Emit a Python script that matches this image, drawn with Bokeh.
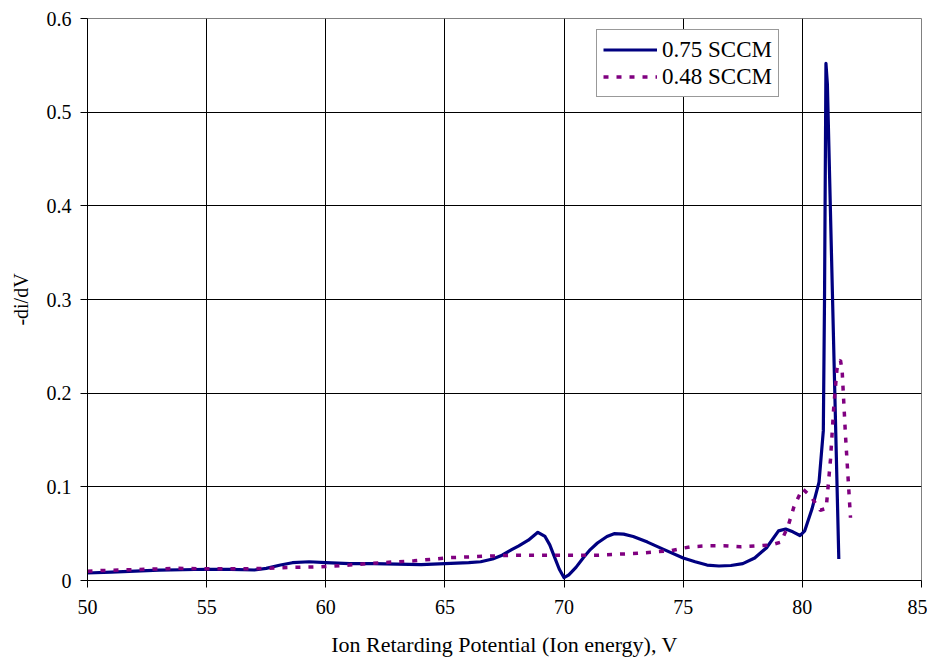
from bokeh.plotting import figure
from bokeh.models import FixedTicker, Range1d, Legend, LegendItem
from bokeh.embed import file_html
from bokeh.resources import INLINE

# Series 0.75 SCCM (solid navy)
x_075 = [50.0, 51.0, 52.0, 53.0, 54.0, 55.0, 56.0, 57.0, 57.5, 58.1, 58.6, 59.3, 60.0, 61.0,
         62.0, 63.0, 64.0, 65.0, 66.0, 66.5, 67.0, 67.4, 67.8, 68.1, 68.5, 68.9, 69.2, 69.4,
         69.6, 69.8, 70.0, 70.2, 70.5, 70.8, 71.1, 71.4, 71.8, 72.1, 72.5, 72.9, 73.5, 74.2,
         75.0, 75.5, 76.0, 76.5, 77.0, 77.5, 78.0, 78.5, 79.0, 79.3, 79.6, 79.9, 80.1, 80.4,
         80.7, 80.88, 80.93, 80.99, 81.05, 81.53]
y_075 = [0.008, 0.009, 0.010, 0.011, 0.0115, 0.012, 0.0118, 0.0112, 0.013, 0.0165, 0.019, 0.020,
         0.019, 0.018, 0.018, 0.0175, 0.017, 0.018, 0.019, 0.020, 0.023, 0.027, 0.033, 0.037,
         0.043, 0.0515, 0.047, 0.038, 0.025, 0.012, 0.003, 0.006, 0.014, 0.024, 0.033, 0.040,
         0.047, 0.050, 0.0495, 0.047, 0.041, 0.033, 0.024, 0.020, 0.0165, 0.0155, 0.016, 0.018,
         0.024, 0.035, 0.053, 0.055, 0.052, 0.048, 0.053, 0.076, 0.105, 0.16, 0.30, 0.552,
         0.53, 0.023]

# Series 0.48 SCCM (dotted purple)
x_048 = [50.0, 51.0, 52.5, 53.8, 55.0, 56.0, 57.0, 58.5, 59.8, 61.0, 62.3, 63.7, 65.2, 66.8,
         67.9, 69.0, 70.0, 71.4, 72.2, 73.1, 74.5, 75.3, 76.0, 76.7, 77.4, 78.2, 78.7, 79.1,
         79.4, 79.65, 80.0, 80.35, 80.75, 81.0, 81.18, 81.32, 81.45, 81.53, 81.6, 81.67, 81.81,
         82.02]
y_048 = [0.010, 0.011, 0.012, 0.013, 0.0125, 0.0125, 0.0126, 0.014, 0.0147, 0.0165, 0.019,
         0.021, 0.0244, 0.026, 0.027, 0.027, 0.027, 0.027, 0.028, 0.029, 0.032, 0.036, 0.037,
         0.037, 0.036, 0.037, 0.038, 0.041, 0.058, 0.079, 0.098, 0.090, 0.075, 0.077, 0.129,
         0.186, 0.225, 0.234, 0.235, 0.224, 0.155, 0.067]

series_names = ["0.75 SCCM", "0.48 SCCM"]

x_ticks = [50, 55, 60, 65, 70, 75, 80, 85]
x_tick_labels = ["50", "55", "60", "65", "70", "75", "80", "85"]
y_ticks = [0, 0.1, 0.2, 0.3, 0.4, 0.5, 0.6]
y_tick_labels = ["0", "0.1", "0.2", "0.3", "0.4", "0.5", "0.6"]

x_title = "Ion Retarding Potential (Ion energy), V"
y_title = "-di/dV"

FONT = "Liberation Serif"

p = figure(width=927, height=665, x_range=Range1d(50, 85), y_range=Range1d(0, 0.6),
           output_backend="svg", toolbar_location=None,
           min_border_left=87, min_border_right=6, min_border_top=18, min_border_bottom=85)

p.background_fill_color = "white"
p.border_fill_color = "white"
p.outline_line_color = "#808080"
p.outline_line_width = 1

p.xgrid.ticker = FixedTicker(ticks=x_ticks[1:-1])
p.ygrid.ticker = FixedTicker(ticks=y_ticks[1:-1])
for g in (p.xgrid, p.ygrid):
    g.grid_line_color = "black"
    g.grid_line_width = 1

p.xaxis.ticker = FixedTicker(ticks=x_ticks)
p.yaxis.ticker = FixedTicker(ticks=y_ticks)
p.xaxis.major_label_overrides = {t: s for t, s in zip(x_ticks, x_tick_labels)}
p.yaxis.major_label_overrides = {t: s for t, s in zip(y_ticks, y_tick_labels)}

for ax in (p.xaxis, p.yaxis):
    ax.axis_line_color = "black"
    ax.axis_line_width = 1
    ax.major_tick_line_color = "black"
    ax.major_tick_in = 0
    ax.major_tick_out = 7
    ax.minor_tick_line_color = None
    ax.major_label_text_font = FONT
    ax.major_label_text_font_size = "20px"
    ax.major_label_text_color = "black"
    ax.axis_label_text_font = FONT
    ax.axis_label_text_font_style = "normal"
    ax.axis_label_text_color = "black"

p.xaxis.axis_label = x_title
p.xaxis.axis_label_text_font_size = "22px"
p.xaxis.major_label_standoff = 12
p.xaxis.axis_label_standoff = 15
p.yaxis.axis_label = y_title
p.yaxis.axis_label_text_font_size = "20px"
p.yaxis.major_label_standoff = 9
p.yaxis.axis_label_standoff = 12

r1 = p.line(x_075, y_075, line_color="#000080", line_width=3.2, line_join="round")
r2 = p.line(x_048, y_048, line_color="#800080", line_width=3.5, line_dash="5 8")

legend = Legend(items=[LegendItem(label=series_names[0], renderers=[r1]),
                       LegendItem(label=series_names[1], renderers=[r2])],
                location=(509, 483))
legend.label_text_font = FONT
legend.label_text_font_size = "23px"
legend.label_text_color = "black"
legend.glyph_width = 54
legend.glyph_height = 27
legend.label_height = 27
legend.label_standoff = 5
legend.padding = 6
legend.spacing = 0
legend.margin = 0
legend.border_line_color = "#333333"
legend.border_line_width = 1
legend.background_fill_color = "white"
legend.background_fill_alpha = 1.0
p.add_layout(legend, "center")

open("out.html", "w").write(file_html(p, INLINE))
